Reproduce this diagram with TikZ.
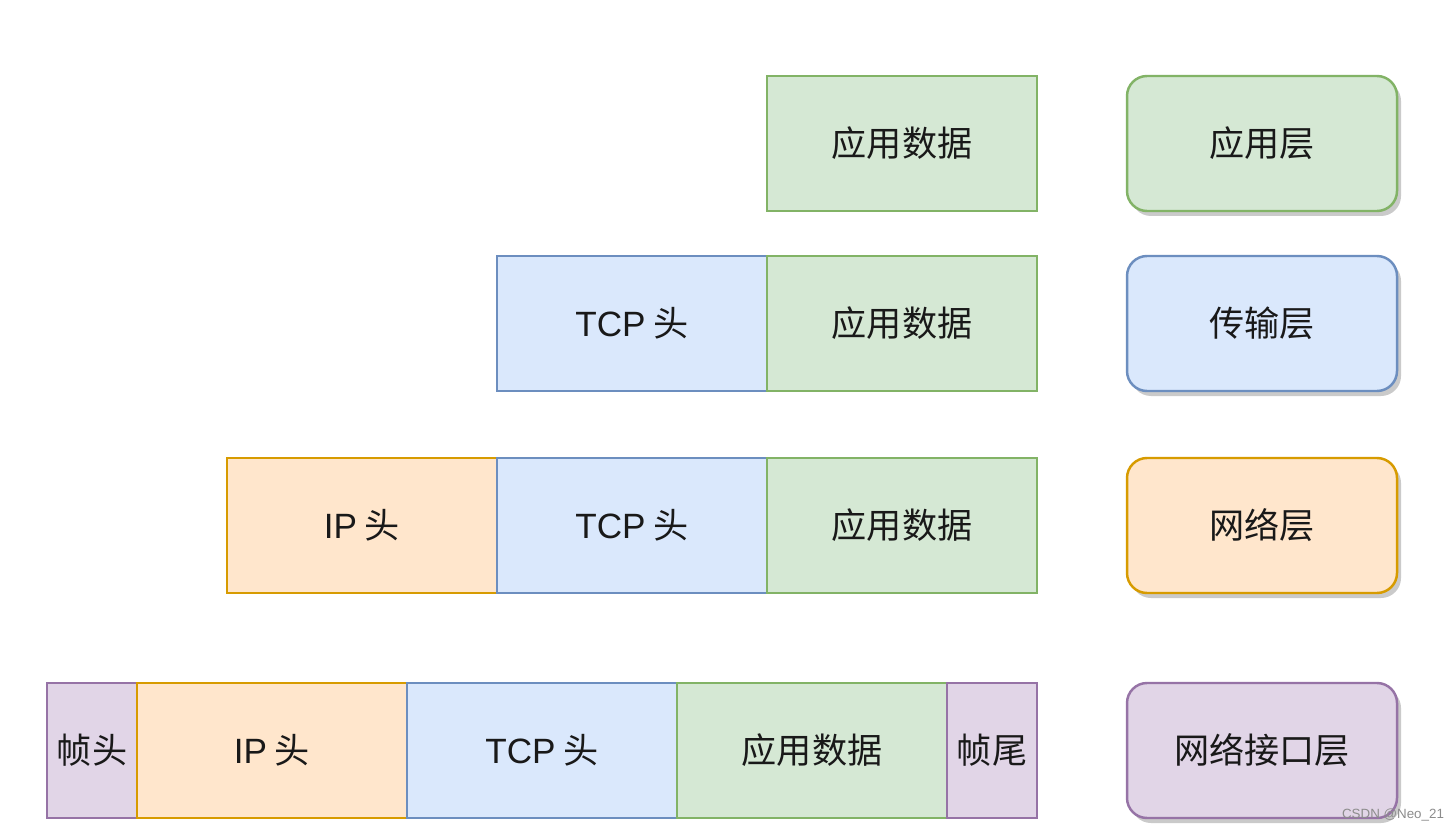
\documentclass[tikz,border=0pt]{standalone}
\usepackage{fontspec}
\setmainfont{Noto Sans CJK SC}
\newfontfamily\latinfont{Liberation Sans}
\usetikzlibrary{positioning, shadows}
\definecolor{cAppFill}{HTML}{D5E8D4}
\definecolor{cAppLine}{HTML}{82B366}
\definecolor{cTcpFill}{HTML}{DAE8FC}
\definecolor{cTcpLine}{HTML}{6C8EBF}
\definecolor{cIpFill}{HTML}{FFE6CC}
\definecolor{cIpLine}{HTML}{D79B00}
\definecolor{cFrmFill}{HTML}{E1D5E7}
\definecolor{cFrmLine}{HTML}{9673A6}
\tikzset{
  seg/.style={draw, line width=0.7pt, minimum height=1.35cm, inner sep=0pt, outer sep=0pt,
    text=black!90, font=\fontsize{10}{12}\selectfont},
  appseg/.style={seg, fill=cAppFill, draw=cAppLine, minimum width=2.7cm},
  tcpseg/.style={seg, fill=cTcpFill, draw=cTcpLine, minimum width=2.7cm},
  ipseg/.style={seg, fill=cIpFill, draw=cIpLine, minimum width=2.7cm},
  frmseg/.style={seg, fill=cFrmFill, draw=cFrmLine, minimum width=0.9cm},
  layer/.style={seg, rounded corners=0.2cm, minimum width=2.7cm,
    drop shadow={shadow xshift=0.04cm, shadow yshift=-0.05cm, opacity=0.35, fill=black!60}},
}

\begin{document}
\begin{tikzpicture}
  \useasboundingbox (0,0) rectangle (14.56,-8.29);

  % application layer
  \node[appseg] (app1) at (9.02,-1.435) {应用数据};

  % transport layer
  \node[tcpseg] (tcp2) at (6.32,-3.235) {{\latinfont TCP} 头};
  \node[appseg, right=0pt of tcp2] (app2) {应用数据};

  % network layer
  \node[ipseg] (ip3) at (3.62,-5.255) {{\latinfont IP} 头};
  \node[tcpseg, right=0pt of ip3] (tcp3) {{\latinfont TCP} 头};
  \node[appseg, right=0pt of tcp3] (app3) {应用数据};

  % link layer
  \node[frmseg] (head4) at (0.92,-7.505) {帧头};
  \node[ipseg, right=0pt of head4] (ip4) {{\latinfont IP} 头};
  \node[tcpseg, right=0pt of ip4] (tcp4) {{\latinfont TCP} 头};
  \node[appseg, right=0pt of tcp4] (app4) {应用数据};
  \node[frmseg, right=0pt of app4] (tail4) {帧尾};

  \foreach \n/\y/\c/\t in {1/-1.435/cApp/应用层, 2/-3.235/cTcp/传输层,
                           3/-5.255/cIp/网络层, 4/-7.505/cFrm/网络接口层} {
    \node[layer, fill=\c Fill, draw=\c Line] (layer\n) at (12.62,\y) {\t};
  }

  \node[text=black!45, font=\latinfont\fontsize{3.8}{4}\selectfont] (mark) at (13.93,-8.15) {CSDN @Neo\_21};
\end{tikzpicture}
\end{document}
